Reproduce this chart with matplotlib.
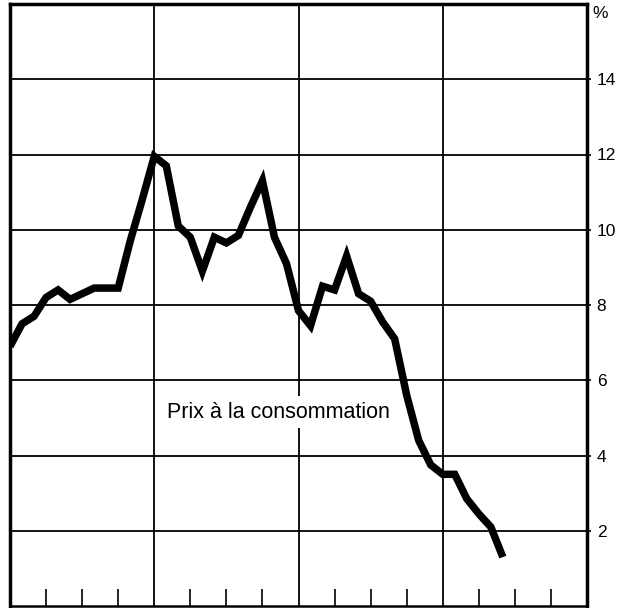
import matplotlib
matplotlib.use("Agg")
import matplotlib.pyplot as plt
from matplotlib.ticker import MultipleLocator

# monthly consumer price inflation, %
prix = [6.9, 7.5, 7.7, 8.2, 8.4, 8.15, 8.3, 8.45, 8.45, 8.45,
        9.7, 10.8, 11.95, 11.7, 10.1, 9.8, 8.9, 9.8, 9.65, 9.85,
        10.6, 11.3, 9.8, 9.1, 7.85, 7.45, 8.5, 8.4, 9.3, 8.3,
        8.1, 7.55, 7.1, 5.6, 4.4, 3.75, 3.5, 3.5, 2.85, 2.45,
        2.1, 1.3]
mois = list(range(len(prix)))
y_ticks = [2, 4, 6, 8, 10, 12, 14]
label = "Prix à la consommation"

plt.rcParams['font.family'] = ['Liberation Sans', 'DejaVu Sans']

fig = plt.figure(figsize=(6.31, 6.08), dpi=100)
ax = fig.add_axes([10 / 631, 2 / 608, 577 / 631, 602 / 608])

ax.plot(mois, prix, color='black', lw=5.4, solid_joinstyle='miter',
        solid_capstyle='butt', zorder=3)

ax.set_xlim(0, 48)
ax.set_ylim(0, 16)

# year grid + quarterly ticks
ax.xaxis.set_major_locator(MultipleLocator(12))
ax.xaxis.set_minor_locator(MultipleLocator(3))
ax.tick_params(axis='x', which='major', length=0, labelbottom=False)
ax.tick_params(axis='x', which='minor', direction='in', length=12,
               width=1.2, color='black')
ax.grid(axis='x', which='major', color='black', lw=1.3)

ax.yaxis.tick_right()
ax.set_yticks(y_ticks)
ax.set_yticklabels([str(v) for v in y_ticks])
ax.tick_params(axis='y', length=3, width=1.2, pad=4, labelsize=12.5)
ax.grid(axis='y', color='black', lw=1.3)
ax.set_axisbelow(True)

for side in ['left', 'right', 'top']:
    ax.spines[side].set_linewidth(2.5)
ax.spines['bottom'].set_linewidth(1.8)

ax.text(1.01, 0.997, "%", transform=ax.transAxes, ha='left', va='top',
        fontsize=12.5)
ax.text(13.05, 5.15, label, ha='left', va='center', fontsize=15.5,
        bbox=dict(facecolor='white', edgecolor='none', pad=4), zorder=2)

fig.savefig("out.png", dpi=100)
